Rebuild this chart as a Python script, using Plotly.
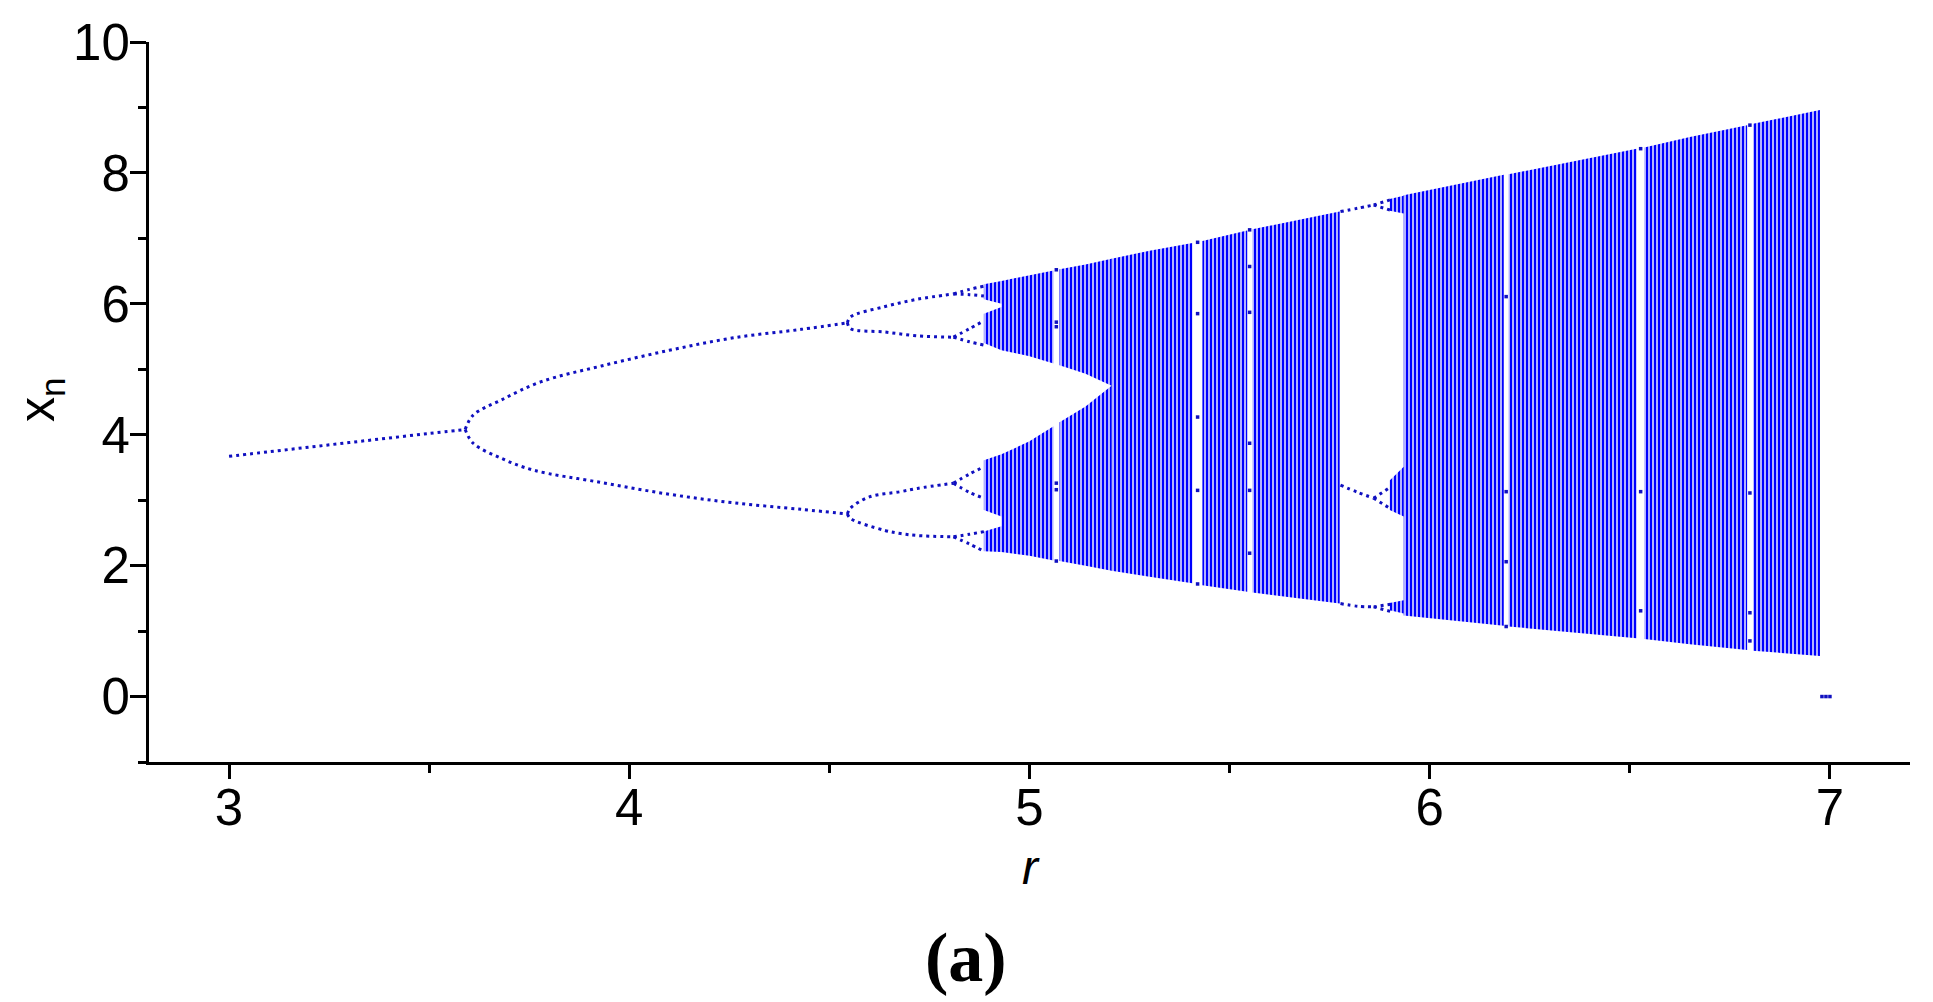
import plotly.graph_objects as go

# ---------------- data ----------------
# period-1 branch
p1_r = [3.0, 3.1, 3.2, 3.3, 3.4, 3.5, 3.59]
p1_x = [3.67, 3.74, 3.81, 3.88, 3.95, 4.02, 4.08]
# period-2 branches
p2u_r = [3.59, 3.61, 3.68, 3.78, 3.93, 4.10, 4.26, 4.43, 4.545]
p2u_x = [4.08, 4.30, 4.53, 4.81, 5.05, 5.29, 5.48, 5.61, 5.71]
p2l_r = [3.59, 3.61, 3.68, 3.76, 3.93, 4.10, 4.26, 4.43, 4.545]
p2l_x = [4.08, 3.87, 3.64, 3.46, 3.27, 3.09, 2.96, 2.86, 2.79]
# period-4 branches
p4uu_r = [4.545, 4.553, 4.637, 4.72, 4.81]
p4uu_x = [5.71, 5.80, 5.955, 6.07, 6.15]
p4ul_r = [4.545, 4.553, 4.637, 4.72, 4.81]
p4ul_x = [5.71, 5.62, 5.57, 5.51, 5.49]
p4lu_r = [4.545, 4.553, 4.60, 4.678, 4.72, 4.81]
p4lu_x = [2.79, 2.88, 3.05, 3.13, 3.18, 3.26]
p4ll_r = [4.545, 4.553, 4.637, 4.678, 4.72, 4.81]
p4ll_x = [2.79, 2.72, 2.54, 2.49, 2.46, 2.44]
# period-8 branches
p8_r = [4.81, 4.85, 4.886]
p8a_x = [6.15, 6.22, 6.27]
p8b_x = [6.15, 6.14, 6.12]
p8c_x = [5.49, 5.62, 5.74]
p8d_x = [5.49, 5.42, 5.37]
p8e_x = [3.26, 3.40, 3.51]
p8f_x = [3.26, 3.12, 3.03]
p8g_x = [2.44, 2.48, 2.52]
p8h_x = [2.44, 2.33, 2.22]
# period-3 window branches
w3_r = [5.777, 5.82, 5.86]
w3t_x = [7.41, 7.46, 7.51]
w3m_x = [3.23, 3.12, 3.03]
w3b_x = [1.42, 1.38, 1.37]
w6_r = [5.86, 5.902]
w6t1_x = [7.51, 7.59]
w6t2_x = [7.51, 7.43]
w6m1_x = [3.03, 3.20]
w6m2_x = [3.03, 2.87]
w6b1_x = [1.37, 1.41]
w6b2_x = [1.37, 1.30]

# chaotic bands: r, upper edge, lower edge
ub_a_r, ub_a_top, ub_a_bot = [4.886, 4.93], [6.30, 6.35], [6.07, 6.00]
ub_b_r, ub_b_top, ub_b_bot = [4.886, 4.93], [5.85, 5.95], [5.40, 5.29]
lb_a_r, lb_a_top, lb_a_bot = [4.886, 4.93], [3.61, 3.70], [2.85, 2.75]
lb_b_r, lb_b_top, lb_b_bot = [4.886, 4.93], [2.52, 2.60], [2.22, 2.21]
ub_c_r, ub_c_top, ub_c_bot = [4.93, 5.0, 5.06], [6.35, 6.43, 6.51], [5.29, 5.20, 5.09]
lb_c_r, lb_c_top, lb_c_bot = [4.93, 5.0, 5.06], [3.70, 3.90, 4.13], [2.21, 2.15, 2.08]
ub_d_r, ub_d_top, ub_d_bot = [5.075, 5.14, 5.205], [6.53, 6.60, 6.69], [5.06, 4.93, 4.75]
lb_d_r, lb_d_top, lb_d_bot = [5.075, 5.14, 5.205], [4.19, 4.43, 4.75], [2.07, 2.00, 1.92]
m1_r, m1_top, m1_bot = [5.205, 5.30, 5.407], [6.69, 6.81, 6.93], [1.92, 1.83, 1.73]
m2_r, m2_top, m2_bot = [5.432, 5.544], [6.96, 7.12], [1.70, 1.60]
m3_r, m3_top, m3_bot = [5.557, 5.65, 5.775], [7.14, 7.26, 7.41], [1.59, 1.52, 1.42]
wt_r, wt_top, wt_bot = [5.90, 5.935], [7.60, 7.65], [7.42, 7.38]
wm_r, wm_top, wm_bot = [5.90, 5.935], [3.30, 3.51], [2.85, 2.75]
wb_r, wb_top, wb_bot = [5.90, 5.935], [1.43, 1.47], [1.32, 1.27]
r1_r, r1_top, r1_bot = [5.935, 6.05, 6.185], [7.66, 7.80, 7.97], [1.24, 1.17, 1.08]
r2_r, r2_top, r2_bot = [6.197, 6.35, 6.517], [7.98, 8.17, 8.37], [1.07, 0.98, 0.89]
r3_r, r3_top, r3_bot = [6.536, 6.65, 6.793], [8.39, 8.55, 8.73], [0.88, 0.80, 0.71]
r4_r, r4_top, r4_bot = [6.808, 6.90, 6.975], [8.75, 8.87, 8.96], [0.70, 0.66, 0.62]

# isolated points inside narrow periodic windows
gap_r = [5.067, 5.067, 5.067, 5.067, 5.067, 5.067,
         5.42, 5.42, 5.42, 5.42, 5.42,
         5.55, 5.55, 5.55, 5.55, 5.55, 5.55,
         6.191, 6.191, 6.191, 6.191,
         6.527, 6.527, 6.527,
         6.80, 6.80, 6.80, 6.80,
         6.98, 6.99, 7.0]
gap_x = [6.52, 5.72, 5.65, 3.26, 3.16, 2.07,
         6.94, 5.85, 4.27, 3.15, 1.72,
         7.13, 6.57, 5.87, 3.87, 3.15, 2.19,
         6.11, 3.13, 2.06, 1.07,
         8.37, 3.13, 1.31,
         8.73, 3.11, 1.28, 0.85,
         0.0, 0.0, 0.0]

x_ticks = [3, 4, 5, 6, 7]
y_ticks = [0, 2, 4, 6, 8, 10]

# ---------------- figure ----------------
DOT = "#1010c0"
BAR = "#0000ff"
fig = go.Figure()

branches = [
    (p1_r, p1_x), (p2u_r, p2u_x), (p2l_r, p2l_x),
    (p4uu_r, p4uu_x), (p4ul_r, p4ul_x), (p4lu_r, p4lu_x), (p4ll_r, p4ll_x),
    (p8_r, p8a_x), (p8_r, p8b_x), (p8_r, p8c_x), (p8_r, p8d_x),
    (p8_r, p8e_x), (p8_r, p8f_x), (p8_r, p8g_x), (p8_r, p8h_x),
    (w3_r, w3t_x), (w3_r, w3m_x), (w3_r, w3b_x),
    (w6_r, w6t1_x), (w6_r, w6t2_x), (w6_r, w6m1_x), (w6_r, w6m2_x),
    (w6_r, w6b1_x), (w6_r, w6b2_x),
]
for br, bx in branches:
    fig.add_trace(go.Scatter(
        x=br, y=bx, mode="lines",
        line=dict(color=DOT, width=3, dash="3px,4px", shape="spline", smoothing=1.0),
        hoverinfo="skip", showlegend=False))

bands = [
    (ub_a_r, ub_a_top, ub_a_bot), (ub_b_r, ub_b_top, ub_b_bot),
    (lb_a_r, lb_a_top, lb_a_bot), (lb_b_r, lb_b_top, lb_b_bot),
    (ub_c_r, ub_c_top, ub_c_bot), (lb_c_r, lb_c_top, lb_c_bot),
    (ub_d_r, ub_d_top, ub_d_bot), (lb_d_r, lb_d_top, lb_d_bot),
    (m1_r, m1_top, m1_bot), (m2_r, m2_top, m2_bot), (m3_r, m3_top, m3_bot),
    (wt_r, wt_top, wt_bot), (wm_r, wm_top, wm_bot), (wb_r, wb_top, wb_bot),
    (r1_r, r1_top, r1_bot), (r2_r, r2_top, r2_bot),
    (r3_r, r3_top, r3_bot), (r4_r, r4_top, r4_bot),
]
for br, top, bot in bands:
    fig.add_trace(go.Scatter(
        x=list(br) + list(br)[::-1], y=list(top) + list(bot)[::-1],
        mode="lines", fill="toself", fillcolor="rgba(0,0,0,0)",
        fillpattern=dict(shape="|", fgcolor=BAR, bgcolor="rgba(0,0,0,0)",
                         fgopacity=1, size=4, solidity=0.65),
        line=dict(width=0, color="rgba(0,0,0,0)"),
        hoverinfo="skip", showlegend=False))

fig.add_trace(go.Scatter(
    x=gap_r, y=gap_x, mode="markers",
    marker=dict(color=DOT, size=3.5, symbol="square"),
    hoverinfo="skip", showlegend=False))

axis_font = dict(family="Arial, Liberation Sans, sans-serif", size=51, color="black")
fig.update_xaxes(
    range=[2.8, 7.2], tickmode="array", tickvals=x_ticks,
    ticktext=[str(v) for v in x_ticks],
    showline=True, linecolor="black", linewidth=3,
    ticks="outside", ticklen=14, tickwidth=3, tickcolor="black",
    minor=dict(ticks="outside", dtick=0.5, tick0=2.5, ticklen=8, tickwidth=3, tickcolor="black"),
    showgrid=False, zeroline=False, tickfont=axis_font,
    automargin=False, ticklabelstandoff=-15)
fig.update_yaxes(
    range=[-1, 10], tickmode="array", tickvals=y_ticks,
    ticktext=[str(v) for v in y_ticks],
    showline=True, linecolor="black", linewidth=3,
    ticks="outside", ticklen=16, tickwidth=3, tickcolor="black",
    minor=dict(ticks="outside", dtick=1, tick0=-1, ticklen=8, tickwidth=3, tickcolor="black"),
    showgrid=False, zeroline=False, tickfont=axis_font,
    automargin=False, ticklabelstandoff=-10)

fig.add_annotation(text="x<sub>n</sub>", xref="paper", yref="paper",
                   x=-0.0613, y=0.503, xanchor="center", yanchor="middle",
                   textangle=-90, showarrow=False,
                   font=dict(family="Arial, Liberation Sans, sans-serif", size=50, color="black"))
fig.add_annotation(text="<i>r</i>", xref="paper", yref="paper",
                   x=0.501, y=-0.146, xanchor="center", yanchor="middle",
                   showarrow=False,
                   font=dict(family="Arial, Liberation Sans, sans-serif", size=48, color="black"))
fig.add_annotation(text="<b>(a)</b>", xref="paper", yref="paper",
                   x=0.464, y=-0.271, xanchor="center", yanchor="middle",
                   showarrow=False,
                   font=dict(family="Liberation Serif, Times New Roman, serif", size=70, color="black"))

fig.update_layout(
    width=1933, height=1002, autosize=False,
    margin=dict(l=141, r=31, t=34, b=248),
    plot_bgcolor="white", paper_bgcolor="white",
    showlegend=False)

fig.write_html("out.html")
